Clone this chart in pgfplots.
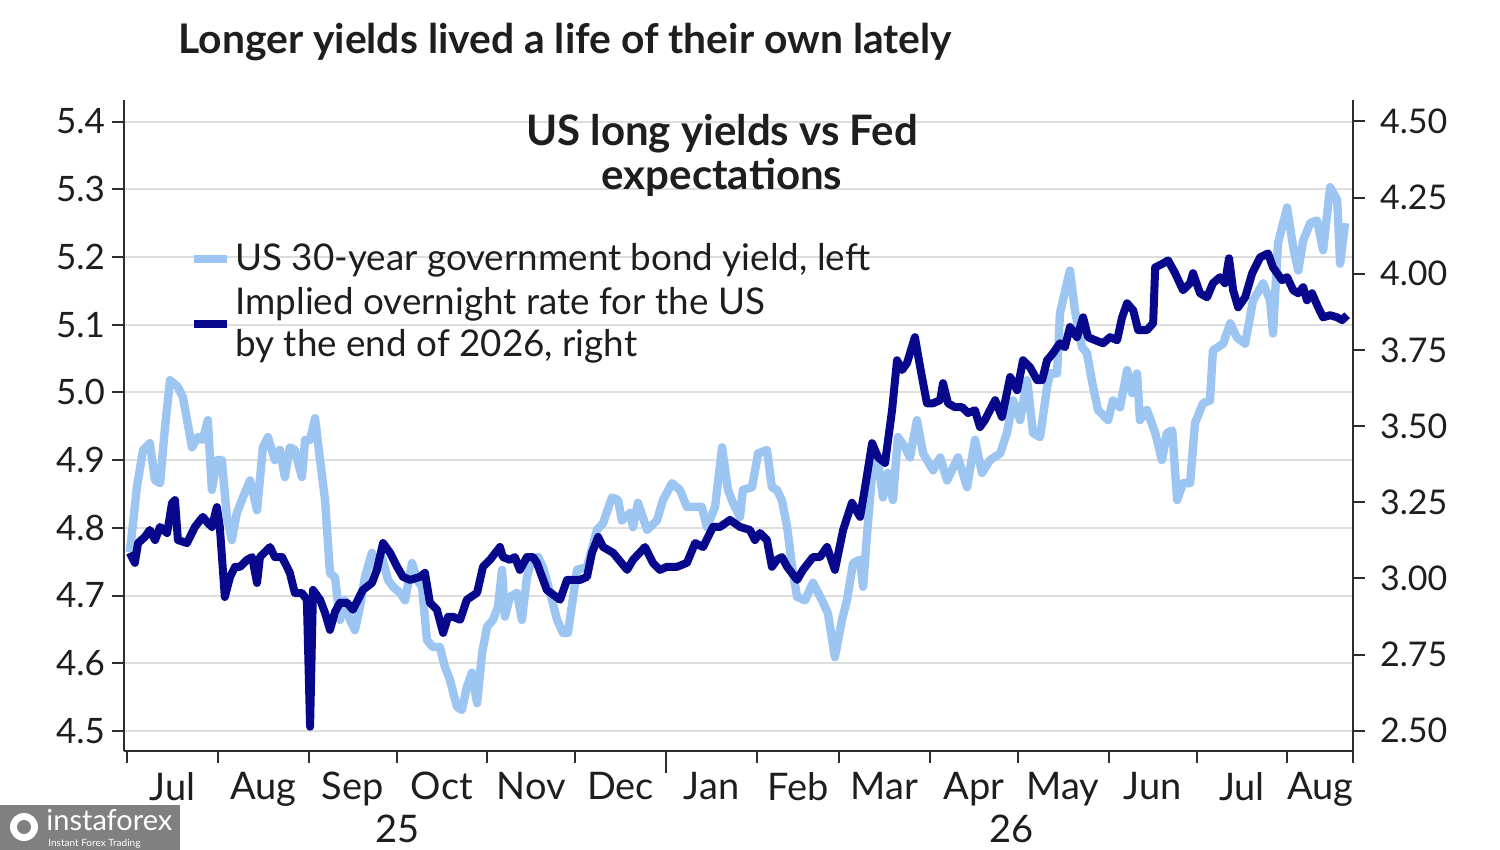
\documentclass[border=0pt]{standalone}
\usepackage{pgfplots}
\pgfplotsset{compat=1.18}
\usepackage{fontspec}
\setmainfont{Lato}
\definecolor{lightser}{RGB}{157,197,242}
\definecolor{darkser}{RGB}{8,8,140}
\definecolor{gridgray}{RGB}{222,222,222}
\definecolor{axisgray}{RGB}{45,45,45}
\definecolor{txt}{RGB}{30,30,30}
\begin{document}
\begin{tikzpicture}
\useasboundingbox (0,0) rectangle (750pt,425pt);
\node[anchor=west, inner sep=0pt, font=\fontsize{20.4}{24}\selectfont\bfseries, text=txt] at (89pt,404pt) {Longer yields lived a life of their own lately};
% watermark
\fill[black!50] (0,0) rectangle (90pt,22.5pt);
\node[anchor=base west, text=white, font=\fontsize{14.5}{15}\selectfont, inner sep=0pt] at (23pt,9.5pt) {instaforex};
\node[anchor=north west, text=white, font=\fontsize{5}{5}\selectfont, inner sep=0pt] at (24pt,5.6pt) {Instant Forex Trading};
\fill[white] (12pt,11.5pt) circle (7pt);
\fill[black!50] (12pt,11.5pt) circle (3.5pt);

\begin{axis}[
  at={(62pt,49.5pt)}, anchor=south west,
  scale only axis, width=614.5pt, height=325.5pt,
  xmin=-1, xmax=418.4,
  ymin=4.4705, ymax=5.4318,
  axis x line*=bottom, axis y line*=left,
  axis line style={axisgray, line width=1pt, -},
  tick align=outside, major tick length=6pt,
  tick style={axisgray, line width=1pt},
  ytick={4.5,4.6,4.7,4.8,4.9,5.0,5.1,5.2,5.3,5.4},
  yticklabel style={font=\fontsize{17.5}{20}\selectfont, /pgf/number format/.cd, fixed, fixed zerofill, precision=1},
  /pgf/number format/assume math mode=true,
  ymajorgrids, grid style={gridgray, line width=1pt},
  xtick={0,31,62,92,123,153,184,215,243,274,304,335,365,396,418.4},
  xticklabels={Jul,Aug,Sep,Oct,Nov,Dec,Jan,Feb,Mar,Apr,May,Jun,Jul,Aug},
  x tick label as interval,
  xticklabel style={font=\fontsize{19}{22}\selectfont, yshift=-1pt},
  tick label style={text=txt},
  clip=false,
  legend style={at={(rel axis cs:0.0537,0.786)}, anchor=north west, draw=none, fill=none,
    font=\fontsize{18.4}{21}\selectfont, row sep=3pt, inner sep=0pt,
    cells={anchor=west, align=left, text=txt}},
  legend image code/.code={\draw[#1, line width=4pt] (0pt,0pt) -- (16.5pt,0pt);},
]
\addplot[lightser, line width=4.2pt, line join=round, mark=none] coordinates {
(1.0,4.764)(3.4,4.860)(5.5,4.915)(7.8,4.925)(9.6,4.870)(11.3,4.866)(13.0,4.949)(14.7,5.018)(17.4,5.008)(19.1,4.993)(22.2,4.919)(24.2,4.934)(25.9,4.930)(27.6,4.959)(29.0,4.856)(30.7,4.900)(32.4,4.900)(34.1,4.816)(35.8,4.782)(37.5,4.822)(39.6,4.845)(42.0,4.870)(44.4,4.826)(46.4,4.919)(48.1,4.934)(50.5,4.900)(52.2,4.915)(53.9,4.875)(55.6,4.919)(57.3,4.915)(59.7,4.875)(60.8,4.930)(62.5,4.930)(64.2,4.962)(65.9,4.900)(67.6,4.841)(69.3,4.733)(71.0,4.727)(72.7,4.664)(74.4,4.693)(76.1,4.664)(77.8,4.649)(79.5,4.683)(81.2,4.727)(83.6,4.763)(85.3,4.738)(87.0,4.757)(89.1,4.723)(90.8,4.713)(93.2,4.704)(94.9,4.693)(97.3,4.748)(99.0,4.723)(100.7,4.713)(102.4,4.634)(104.4,4.624)(106.8,4.624)(108.5,4.595)(110.2,4.576)(112.6,4.536)(114.3,4.531)(116.0,4.565)(117.7,4.586)(119.5,4.541)(121.2,4.615)(122.9,4.654)(124.9,4.664)(126.6,4.683)(128.0,4.738)(129.0,4.669)(130.7,4.698)(133.1,4.704)(134.8,4.664)(136.5,4.727)(138.2,4.753)(140.3,4.757)(142.0,4.742)(144.4,4.704)(146.8,4.664)(148.8,4.645)(150.5,4.645)(153.6,4.738)(157.0,4.742)(160.4,4.797)(162.5,4.807)(165.5,4.845)(167.6,4.841)(168.9,4.811)(171.7,4.822)(172.7,4.801)(174.4,4.837)(177.5,4.797)(180.9,4.811)(182.9,4.841)(186.0,4.866)(188.7,4.856)(191.1,4.831)(193.9,4.831)(196.2,4.831)(197.9,4.801)(200.7,4.831)(203.1,4.919)(205.1,4.856)(206.8,4.837)(209.2,4.816)(210.2,4.856)(213.3,4.860)(215.4,4.910)(218.4,4.915)(220.1,4.860)(221.8,4.856)(223.5,4.841)(225.3,4.801)(227.0,4.742)(228.7,4.698)(231.4,4.693)(234.1,4.719)(237.2,4.693)(239.2,4.674)(241.6,4.609)(244.0,4.664)(245.7,4.693)(247.8,4.748)(250.2,4.753)(251.2,4.713)(252.6,4.792)(254.3,4.881)(256.3,4.900)(258.0,4.845)(259.7,4.881)(261.4,4.841)(263.1,4.934)(265.5,4.919)(267.2,4.904)(269.6,4.959)(271.7,4.910)(275.1,4.885)(277.5,4.904)(279.9,4.870)(283.6,4.904)(286.7,4.860)(289.4,4.930)(291.8,4.881)(294.5,4.900)(298.0,4.910)(300.3,4.940)(302.4,4.988)(304.8,4.959)(307.2,5.018)(309.2,4.940)(311.6,4.934)(314.0,5.008)(315.0,5.028)(317.4,5.028)(318.4,5.117)(321.8,5.180)(323.5,5.121)(325.9,5.067)(327.6,5.058)(329.7,5.008)(331.4,4.974)(334.8,4.959)(336.5,4.988)(338.9,4.978)(341.3,5.033)(343.0,4.999)(344.7,5.028)(345.7,4.959)(348.1,4.974)(350.9,4.940)(353.2,4.900)(354.9,4.940)(356.7,4.944)(358.4,4.841)(360.4,4.866)(362.8,4.866)(364.5,4.955)(367.2,4.984)(369.6,4.988)(370.6,5.062)(374.1,5.072)(376.5,5.102)(378.8,5.081)(381.6,5.072)(384.3,5.136)(387.7,5.161)(390.1,5.136)(391.1,5.087)(392.8,5.220)(395.9,5.273)(398.0,5.214)(399.7,5.180)(401.4,5.224)(403.8,5.250)(406.1,5.254)(408.2,5.210)(410.6,5.303)(413.0,5.284)(414.0,5.190)(415.7,5.250)
};
\addlegendentry{US 30-year government bond yield, left}
\addlegendimage{darkser, line width=4pt}
\addlegendentry{Implied overnight rate for the US\\by the end of 2026, right}
\node[align=center, font=\fontsize{21}{22}\selectfont\bfseries, text=txt] at (rel axis cs:0.4866,0.915) {US long yields vs Fed\\expectations};
\draw[axisgray, line width=1pt] (axis cs:184,4.4705) -- ([yshift=-11pt]axis cs:184,4.4705);
\node[anchor=base, font=\fontsize{19}{22}\selectfont, text=txt] at ([yshift=-46pt]axis cs:92.2,4.4705) {25};
\node[anchor=base, font=\fontsize{19}{22}\selectfont, text=txt] at ([yshift=-46pt]axis cs:302,4.4705) {26};
\end{axis}

\begin{axis}[
  at={(62pt,49.5pt)}, anchor=south west,
  scale only axis, width=614.5pt, height=325.5pt,
  xmin=-1, xmax=418.4,
  ymin=2.4334, ymax=4.5706,
  axis y line*=right, axis x line=none,
  axis line style={axisgray, line width=1pt, -},
  tick align=outside, major tick length=6pt,
  tick style={axisgray, line width=1pt},
  ytick={2.5,2.75,3.0,3.25,3.5,3.75,4.0,4.25,4.5},
  yticklabel style={xshift=4pt, /pgf/number format/.cd, fixed, fixed zerofill, precision=2},
  /pgf/number format/assume math mode=true,
  tick label style={font=\fontsize{17}{20}\selectfont, text=txt},
]
\addplot[darkser, line width=4pt, line join=round, mark=none] coordinates {
(1.0,3.084)(2.7,3.051)(3.8,3.116)(6.1,3.136)(7.8,3.159)(9.6,3.126)(11.3,3.169)(13.7,3.149)(15.4,3.248)(16.4,3.257)(17.4,3.126)(20.5,3.116)(23.2,3.169)(25.9,3.202)(27.6,3.182)(29.0,3.169)(30.7,3.234)(31.7,3.169)(33.4,2.939)(35.2,3.005)(36.9,3.038)(38.6,3.038)(41.0,3.061)(42.7,3.070)(44.4,2.985)(45.4,3.070)(47.8,3.093)(48.8,3.103)(50.5,3.070)(52.9,3.070)(54.6,3.038)(55.6,3.018)(57.3,2.952)(59.7,2.952)(61.4,2.930)(62.5,2.513)(63.5,2.962)(65.9,2.930)(67.6,2.887)(69.3,2.831)(71.0,2.890)(72.7,2.920)(75.1,2.920)(77.1,2.897)(80.5,2.962)(83.6,2.985)(85.3,3.028)(87.4,3.116)(89.8,3.084)(92.2,3.038)(94.2,3.005)(96.6,2.995)(100.0,3.005)(101.7,3.018)(103.4,2.920)(105.8,2.897)(107.9,2.821)(109.6,2.874)(111.3,2.874)(113.7,2.864)(116.0,2.930)(119.5,2.953)(121.5,3.038)(123.9,3.061)(127.3,3.103)(128.3,3.070)(130.7,3.061)(132.4,3.070)(134.1,3.028)(136.5,3.070)(138.6,3.070)(139.9,3.051)(143.3,2.962)(147.8,2.930)(150.2,2.995)(154.6,2.995)(157.0,3.005)(158.7,3.084)(160.8,3.136)(162.5,3.103)(165.9,3.084)(170.7,3.028)(172.7,3.061)(176.8,3.103)(179.5,3.051)(181.9,3.028)(184.3,3.038)(187.7,3.038)(191.1,3.051)(193.9,3.116)(196.6,3.103)(200.0,3.169)(202.4,3.169)(205.8,3.192)(209.2,3.169)(212.6,3.159)(214.3,3.126)(216.0,3.149)(218.4,3.126)(220.1,3.038)(221.8,3.061)(223.5,3.070)(225.3,3.038)(228.7,2.995)(230.7,3.028)(234.1,3.070)(236.5,3.070)(238.9,3.103)(241.6,3.028)(244.4,3.159)(247.4,3.248)(250.2,3.202)(251.9,3.300)(254.3,3.444)(256.3,3.398)(258.7,3.379)(261.1,3.552)(262.8,3.716)(264.5,3.684)(266.2,3.707)(268.9,3.792)(270.7,3.693)(273.0,3.575)(275.1,3.575)(277.5,3.585)(278.5,3.641)(280.2,3.575)(282.6,3.562)(285.0,3.562)(287.0,3.543)(289.4,3.552)(291.1,3.497)(292.8,3.520)(294.5,3.552)(296.3,3.585)(298.6,3.530)(301.4,3.661)(303.8,3.618)(305.8,3.716)(308.2,3.693)(310.6,3.651)(312.3,3.651)(314.0,3.716)(316.0,3.739)(318.4,3.772)(320.1,3.759)(321.8,3.825)(324.2,3.792)(326.3,3.857)(328.0,3.792)(330.4,3.782)(333.1,3.772)(335.5,3.792)(337.9,3.782)(339.6,3.857)(341.3,3.903)(343.4,3.880)(345.1,3.815)(348.1,3.815)(350.2,3.838)(350.9,4.021)(353.6,4.034)(355.3,4.044)(357.7,4.002)(360.4,3.946)(362.8,3.969)(363.8,4.002)(366.2,3.936)(368.6,3.923)(370.6,3.969)(373.0,3.989)(374.7,3.969)(376.1,4.051)(377.5,3.946)(379.2,3.890)(381.6,3.923)(384.0,4.002)(386.7,4.054)(389.4,4.067)(391.1,4.021)(394.2,3.979)(395.9,3.989)(398.0,3.946)(399.7,3.936)(401.4,3.956)(402.7,3.913)(404.4,3.936)(406.5,3.890)(408.2,3.857)(410.6,3.864)(413.0,3.857)(414.7,3.848)(416.4,3.864)
};
\end{axis}
\end{tikzpicture}
\end{document}
